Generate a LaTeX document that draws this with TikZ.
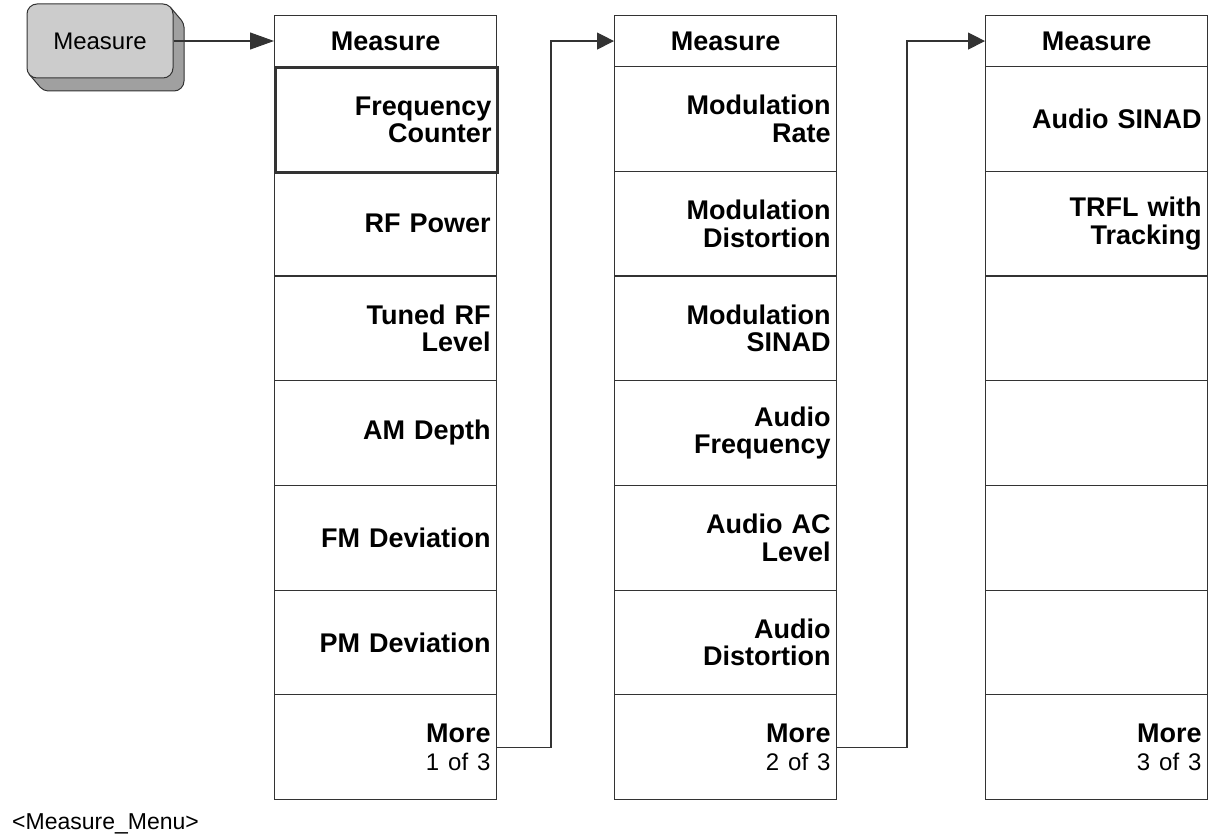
\documentclass[tikz,border=0pt]{standalone}
\usepackage{fontspec}
\setmainfont{Liberation Sans}
\usetikzlibrary{arrows.meta}
\definecolor{lc}{HTML}{333333}
\definecolor{btnfill}{HTML}{CCCCCC}
\definecolor{shadowc}{HTML}{A0A0A0}
\newcommand{\bigbf}{\fontsize{27}{27.5}\selectfont\bfseries}
\newcommand{\smallreg}{\fontsize{24}{27}\selectfont\mdseries}
\begin{document}
\begin{tikzpicture}[x=1pt,y=-1pt,
  cell/.style={draw=lc, line width=1.1pt, minimum width=222pt, minimum height=104.7pt,
    inner xsep=6pt, inner ysep=0pt, text width=210pt, align=right, font=\bigbf, anchor=north west},
  selcell/.style={cell, line width=3pt},
  head/.style={draw=lc, line width=1.1pt, minimum width=222pt, minimum height=51pt,
    inner sep=0pt, font=\bigbf, anchor=north west},
  btn/.style={draw=lc, line width=1pt, fill=btnfill, rounded corners=10pt, minimum width=146pt,
    minimum height=74pt, inner sep=0pt, font=\fontsize{24}{27}\selectfont},
  conn/.style={draw=lc, line width=1.1pt, -{Triangle[length=17pt,width=17pt]}},
  connA/.style={draw=lc, line width=1.1pt, -{Triangle[length=24pt,width=17pt]}}
]
\useasboundingbox (0,0) rectangle (1209,837);

% button shadow
\filldraw[fill=shadowc, draw=lc, line width=1pt] (170.6,7.5) [rounded corners=4pt] -- (184,23.3) [rounded corners=10pt] -- (184,91) [rounded corners=4.7pt] -- (43.4,91) [sharp corners] -- (29.4,74.5) -- cycle;
\node[btn] (btn) at (100,41) {Measure};

% column 1
\node[head] (h1) at (274,15) {Measure};
\node[cell] (a2) at (274,170.7) {RF Power};
\node[cell] (a3) at (274,275.4) {Tuned RF\\Level};
\node[cell] (a4) at (274,380.1) {AM Depth};
\node[cell] (a5) at (274,484.9) {FM Deviation};
\node[cell] (a6) at (274,589.6) {PM Deviation};
\node[cell] (a7) at (274,694.3) {More\\{\smallreg 1 of 3}};
\node[selcell] (a1) at (274,66) {Frequency\\Counter};

% column 2
\node[head] (h2) at (614,15) {Measure};
\node[cell] (b1) at (614,66) {Modulation\\Rate};
\node[cell] (b2) at (614,170.7) {Modulation\\Distortion};
\node[cell] (b3) at (614,275.4) {Modulation\\SINAD};
\node[cell] (b4) at (614,380.1) {Audio\\Frequency};
\node[cell] (b5) at (614,484.9) {Audio AC\\Level};
\node[cell] (b6) at (614,589.6) {Audio\\Distortion};
\node[cell] (b7) at (614,694.3) {More\\{\smallreg 2 of 3}};

% column 3
\node[head] (h3) at (985,15) {Measure};
\node[cell] (c1) at (985,66) {Audio SINAD};
\node[cell] (c2) at (985,170.7) {TRFL with\\Tracking};
\node[cell] (c3) at (985,275.4) {};
\node[cell] (c4) at (985,380.1) {};
\node[cell] (c5) at (985,484.9) {};
\node[cell] (c6) at (985,589.6) {};
\node[cell] (c7) at (985,694.3) {More\\{\smallreg 3 of 3}};

% connectors
\coordinate (j1) at (551,0);
\coordinate (j2) at (907,0);
\draw[connA] (btn.east) -- (btn.east -| h1.west);
\draw[conn] (a7.east) -- (a7.east -| j1) -- (h2.west -| j1) -- (h2.west);
\draw[conn] (b7.east) -- (b7.east -| j2) -- (h3.west -| j2) -- (h3.west);

\node[anchor=base west, inner sep=0pt, font=\fontsize{23}{26}\selectfont] (lbl) at (12,829) {<Measure\_Menu>};
\end{tikzpicture}
\end{document}
